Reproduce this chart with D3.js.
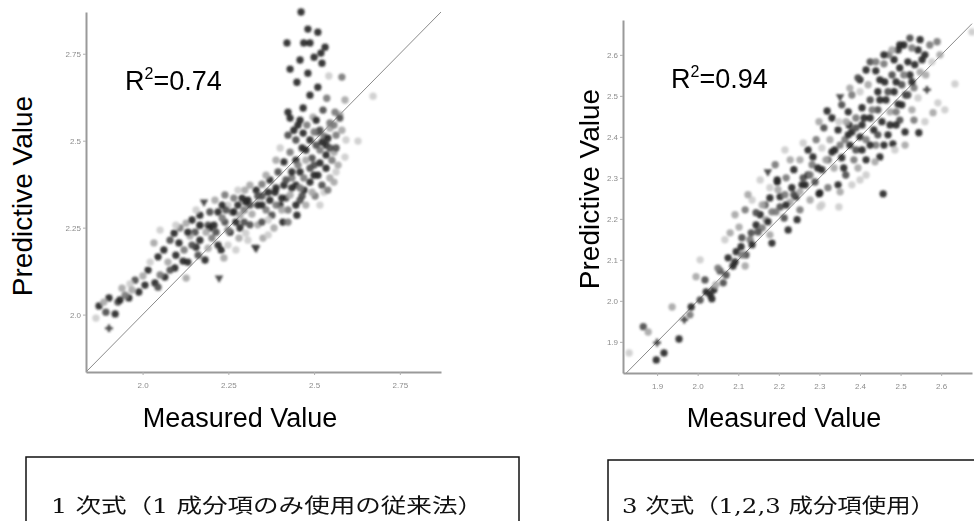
<!DOCTYPE html>
<html>
<head>
<meta charset="utf-8">
<script src="https://cdn.jsdelivr.net/npm/d3@7"></script>
<style>
  body { margin: 0; background: #fff; }
  svg { display: block; }
</style>
</head>
<body>
<svg id="chart" width="974" height="521"></svg>
<script>
// [measured, predicted, sample group]
var leftPoints = [
  [1.873,2.025,"d"],[1.902,2.048,"d"],[1.920,2.002,"d"],[1.902,1.961,"p"],[1.960,2.048,"d"],
  [1.989,2.065,"d"],[1.940,2.076,"l"],[1.887,2.036,"l"],[2.001,2.111,"l"],[2.036,2.091,"d"],
  [2.045,2.079,"m"],[2.065,2.108,"d"],[2.094,2.134,"d"],[2.118,2.154,"d"],[2.127,2.105,"l"],
  [2.045,2.166,"d"],[2.062,2.186,"d"],[2.033,2.206,"l"],[2.092,2.234,"d"],[2.106,2.206,"d"],
  [2.127,2.263,"l"],[2.144,2.272,"d"],[2.156,2.194,"d"],[2.182,2.157,"d"],[2.223,2.105,"t"],
  [2.229,2.186,"d"],[2.237,2.163,"l"],[2.179,2.324,"t"],[2.331,2.191,"t"],[2.281,2.220,"l"],
  [2.153,2.237,"m"],[2.167,2.286,"d"],[2.191,2.257,"m"],[2.202,2.220,"g"],[2.220,2.295,"d"],
  [2.240,2.266,"m"],[2.255,2.237,"d"],[2.261,2.295,"g"],[2.278,2.315,"d"],[2.296,2.266,"m"],
  [2.307,2.329,"d"],[2.319,2.289,"l"],[2.336,2.315,"d"],[2.348,2.341,"m"],[2.360,2.301,"g"],
  [2.371,2.329,"d"],[2.386,2.352,"d"],[2.351,2.220,"l"],[2.409,2.266,"d"],[2.450,2.286,"d"],
  [2.328,2.194,"t"],[2.284,2.286,"l"],[2.249,2.315,"v"],[2.211,2.329,"l"],[2.298,2.358,"l"],
  [2.240,2.344,"g"],[2.109,2.249,"g"],[2.080,2.214,"m"],[2.138,2.226,"l"],[2.196,2.249,"d"],
  [2.272,2.266,"d"],[2.313,2.258,"m"],[2.377,2.286,"m"],[2.401,2.315,"d"],[2.418,2.335,"m"],
  [2.435,2.364,"d"],[2.424,2.301,"g"],[2.459,2.329,"m"],[2.471,2.358,"d"],[2.488,2.381,"d"],
  [2.476,2.315,"l"],[2.503,2.341,"g"],[2.511,2.401,"d"],[2.523,2.372,"m"],[2.535,2.421,"d"],
  [2.546,2.393,"l"],[2.500,2.430,"m"],[2.459,2.410,"d"],[2.435,2.393,"g"],[2.412,2.372,"d"],
  [2.447,2.444,"d"],[2.476,2.473,"d"],[2.494,2.450,"m"],[2.517,2.473,"g"],[2.535,2.487,"d"],
  [2.558,2.467,"l"],[2.570,2.430,"l"],[2.488,2.502,"d"],[2.511,2.525,"m"],[2.529,2.513,"g"],
  [2.546,2.536,"l"],[2.564,2.516,"g"],[2.575,2.574,"l"],[2.590,2.453,"v"],[2.628,2.499,"v"],
  [2.672,2.628,"v"],[2.590,2.617,"l"],[2.581,2.683,"g"],[2.543,2.686,"v"],[2.537,2.622,"g"],
  [2.575,2.565,"m"],
  [2.462,2.870,"d"],[2.482,2.821,"d"],[2.511,2.812,"d"],[2.421,2.781,"d"],[2.470,2.781,"d"],
  [2.488,2.781,"d"],[2.532,2.769,"d"],[2.520,2.752,"d"],[2.459,2.732,"d"],[2.500,2.740,"d"],
  [2.523,2.723,"d"],[2.430,2.706,"d"],[2.482,2.694,"d"],[2.450,2.668,"d"],[2.511,2.654,"d"],
  [2.488,2.631,"d"],[2.424,2.582,"d"],[2.468,2.594,"d"],[2.430,2.565,"d"],[2.526,2.588,"m"],
  [2.497,2.568,"l"],[2.546,2.551,"g"],[2.453,2.545,"d"],[2.468,2.522,"d"],[2.517,2.530,"m"],
  [2.561,2.582,"g"],
  [2.447,2.502,"m"],[2.465,2.479,"d"],[2.430,2.467,"g"],[2.412,2.439,"d"],[2.395,2.410,"m"],
  [2.371,2.387,"d"],[2.348,2.375,"g"],[2.331,2.358,"d"],[2.360,2.401,"l"],[2.389,2.444,"l"],
  [2.424,2.516,"m"],[2.401,2.479,"v"],[2.535,2.459,"d"],[2.506,2.487,"m"],[2.488,2.421,"m"],
  [2.470,2.393,"g"],[2.447,2.372,"d"],[2.430,2.344,"l"],[2.406,2.335,"d"],[2.389,2.315,"g"],
  [2.366,2.352,"d"],[2.313,2.315,"m"],[2.290,2.335,"d"],[2.266,2.295,"d"],[2.232,2.278,"g"],
  [2.208,2.257,"d"],[2.185,2.237,"l"],[2.167,2.214,"d"],[2.144,2.200,"m"],[2.121,2.186,"g"],
  [2.097,2.171,"d"],[2.074,2.151,"l"],[2.016,2.128,"d"],[1.978,2.099,"m"],[1.949,2.056,"g"],
  [1.928,2.036,"m"],[1.963,2.088,"v"],[2.022,2.151,"v"],[2.167,2.255,"l"],[2.336,2.258,"l"],
  [2.366,2.272,"v"],[2.301,2.234,"v"],[2.249,2.200,"v"],[2.494,2.352,"l"],[2.529,2.352,"v"],
  [2.517,2.315,"v"],[2.564,2.410,"v"],[2.552,2.444,"g"],[2.564,2.479,"m"],[2.506,2.559,"d"],
  [2.540,2.507,"d"],[2.441,2.530,"d"],[2.479,2.545,"g"],[2.418,2.387,"m"],[2.348,2.315,"d"],
  [2.296,2.301,"g"],[2.243,2.301,"m"],[2.214,2.237,"m"],[2.132,2.237,"d"],[2.097,2.257,"v"],
  [2.051,2.243,"v"],[2.156,2.301,"v"],[2.278,2.358,"v"],[2.313,2.372,"l"],[2.500,2.401,"d"],
  [2.517,2.436,"d"],[2.459,2.364,"g"],[2.476,2.444,"l"],
  [2.348,2.266,"m"],[2.383,2.249,"l"],[2.424,2.266,"g"],[2.447,2.315,"d"],[2.465,2.341,"m"],
  [2.435,2.410,"d"],[2.453,2.430,"g"],[2.540,2.358,"g"],[2.558,2.381,"l"],[2.523,2.496,"d"],
  [2.546,2.479,"m"],[2.500,2.525,"g"],[2.459,2.559,"d"],[2.558,2.545,"g"],[2.581,2.530,"l"],
  [2.593,2.502,"v"],[2.284,2.249,"d"],[2.249,2.243,"g"],[2.220,2.200,"d"],[2.191,2.191,"l"],
  [2.162,2.171,"m"],[2.132,2.151,"d"],[2.080,2.128,"m"],[2.051,2.114,"g"],[2.007,2.085,"d"],
  [1.969,2.071,"l"],[1.934,2.042,"d"],[1.893,2.007,"m"],[1.864,1.990,"v"],[2.307,2.214,"v"],
  [2.272,2.186,"v"],[2.366,2.229,"v"],[2.406,2.301,"l"],[2.389,2.364,"d"],[2.336,2.341,"m"],
  [2.301,2.324,"d"],[2.266,2.335,"g"],[2.232,2.315,"d"],[2.196,2.295,"m"],[2.167,2.257,"d"]
];

var rightPoints = [
  [1.831,1.873,"v"],[1.898,1.856,"d"],[1.917,1.873,"d"],[1.900,1.898,"p"],[1.866,1.937,"m"],
  [1.878,1.924,"l"],[1.954,1.907,"d"],[1.967,1.954,"p"],[1.984,1.985,"d"],[1.937,1.985,"l"],
  [1.996,2.059,"l"],[2.031,2.015,"d"],[2.040,2.027,"d"],[2.035,2.005,"d"],[2.063,2.044,"m"],
  [2.055,2.073,"m"],[2.087,2.085,"d"],[2.117,2.085,"l"],[2.095,2.120,"d"],[2.107,2.132,"d"],
  [2.119,2.112,"m"],[2.129,2.149,"g"],[2.080,2.166,"l"],[2.102,2.180,"l"],[2.132,2.166,"m"],
  [2.144,2.185,"d"],[2.154,2.210,"d"],[2.144,2.215,"m"],[2.168,2.198,"l"],[2.183,2.141,"d"],
  [2.223,2.173,"d"],[2.245,2.198,"d"],[2.203,2.229,"m"],[2.228,2.241,"l"],[2.203,2.254,"d"],
  [2.242,2.254,"d"],[2.265,2.283,"d"],[2.301,2.263,"d"],[2.301,2.229,"v"],[2.348,2.229,"v"],
  [2.196,2.290,"d"],[2.457,2.261,"d"],[2.351,2.498,"t"],[2.319,2.463,"d"],[2.299,2.437,"l"],
  [2.373,2.429,"d"],[2.348,2.437,"v"],[2.511,2.412,"d"],[2.545,2.410,"d"],[2.481,2.383,"d"],
  [2.449,2.351,"d"],[2.580,2.459,"l"],[2.560,2.437,"v"],[2.592,2.483,"v"],[2.415,2.307,"v"],
  [2.173,2.315,"t"],[2.196,2.295,"d"],[2.299,2.261,"d"],[2.260,2.300,"m"],[2.284,2.351,"d"],
  [2.375,2.380,"d"],[2.400,2.400,"d"],[2.676,2.656,"v"],[2.590,2.632,"g"],[2.543,2.612,"d"],
  [2.634,2.529,"v"],[2.565,2.515,"p"],[2.609,2.466,"v"],
  [2.166,2.234,"m"],[2.183,2.217,"g"],[2.178,2.251,"d"],[2.215,2.259,"g"],[2.232,2.276,"d"],
  [2.252,2.266,"l"],[2.272,2.307,"d"],[2.289,2.290,"m"],[2.282,2.332,"g"],[2.306,2.320,"d"],
  [2.321,2.344,"m"],[2.336,2.324,"l"],[2.338,2.368,"d"],[2.355,2.349,"d"],[2.363,2.393,"g"],
  [2.380,2.412,"d"],[2.390,2.368,"m"],[2.405,2.429,"d"],[2.415,2.393,"g"],[2.425,2.446,"d"],
  [2.434,2.417,"d"],[2.444,2.466,"m"],[2.454,2.437,"d"],[2.464,2.490,"d"],[2.474,2.461,"l"],
  [2.484,2.510,"d"],[2.494,2.480,"d"],[2.503,2.527,"m"],[2.513,2.502,"d"],[2.523,2.551,"d"],
  [2.533,2.520,"g"],[2.518,2.583,"d"],[2.498,2.568,"d"],[2.479,2.551,"m"],[2.461,2.534,"d"],
  [2.444,2.510,"d"],[2.425,2.490,"m"],[2.405,2.471,"d"],[2.390,2.446,"g"],[2.371,2.461,"d"],
  [2.439,2.561,"d"],[2.459,2.578,"g"],[2.484,2.588,"d"],[2.548,2.558,"l"],[2.543,2.495,"v"],
  [2.528,2.466,"l"],[2.498,2.441,"m"],[2.469,2.405,"d"],[2.439,2.380,"g"],[2.415,2.344,"d"],
  [2.395,2.324,"l"],[2.365,2.307,"m"],[2.346,2.283,"d"],[2.321,2.276,"g"],[2.306,2.373,"v"],
  [2.326,2.393,"l"],[2.346,2.417,"d"],[2.366,2.437,"l"],[2.400,2.510,"v"],[2.420,2.527,"l"],
  [2.449,2.539,"d"],[2.494,2.612,"d"],[2.508,2.624,"d"],[2.528,2.617,"g"],[2.553,2.588,"d"],
  [2.562,2.551,"l"],[2.535,2.576,"d"],[2.471,2.600,"g"],[2.425,2.583,"m"],[2.400,2.539,"d"],
  [2.380,2.502,"g"],[2.355,2.478,"m"],[2.331,2.446,"d"],[2.311,2.422,"m"],[2.292,2.393,"g"],
  [2.272,2.368,"d"],[2.252,2.344,"l"],[2.237,2.320,"d"],[2.218,2.300,"g"],[2.198,2.271,"l"],
  [2.178,2.276,"v"],[2.159,2.234,"l"],[2.117,2.222,"g"],[2.134,2.246,"v"],[2.092,2.210,"l"],
  [2.067,2.149,"v"],[2.006,2.100,"v"],[2.050,2.080,"g"],[2.018,2.051,"m"],[2.075,2.105,"d"],
  [2.109,2.154,"m"],[2.159,2.178,"g"],[2.178,2.161,"l"],[2.213,2.202,"m"],[2.252,2.222,"g"],
  [2.277,2.246,"l"],[2.306,2.234,"v"],[2.351,2.266,"l"],[2.380,2.283,"v"],[2.400,2.295,"v"],
  [2.437,2.339,"l"],[2.486,2.368,"v"],[2.511,2.380,"l"],[2.489,2.429,"d"],[2.533,2.441,"g"],
  [2.260,2.385,"v"],[2.228,2.344,"l"],[2.191,2.332,"g"],[2.215,2.368,"v"],[2.154,2.295,"v"],
  [2.124,2.259,"l"],
  [2.425,2.380,"d"],[2.444,2.405,"m"],[2.459,2.380,"d"],[2.474,2.429,"d"],[2.489,2.461,"g"],
  [2.503,2.478,"d"],[2.518,2.502,"m"],[2.528,2.534,"d"],[2.508,2.551,"g"],[2.489,2.534,"d"],
  [2.469,2.510,"m"],[2.449,2.490,"d"],[2.430,2.466,"g"],[2.410,2.446,"d"],[2.390,2.422,"m"],
  [2.371,2.405,"d"],[2.351,2.380,"g"],[2.331,2.363,"d"],[2.316,2.344,"l"],[2.296,2.324,"d"],
  [2.277,2.307,"g"],[2.257,2.283,"d"],[2.237,2.259,"m"],[2.218,2.234,"d"],[2.193,2.217,"g"],
  [2.173,2.193,"d"],[2.149,2.168,"m"],[2.134,2.137,"d"],[2.109,2.112,"g"],[2.092,2.095,"d"],
  [2.070,2.063,"m"],[2.045,2.039,"l"],[2.021,2.022,"d"],[2.006,2.002,"m"],[1.981,1.966,"g"],
  [2.560,2.600,"d"],[2.572,2.624,"g"],[2.548,2.637,"d"],[2.523,2.641,"m"],[2.498,2.624,"d"],
  [2.479,2.612,"l"],[2.459,2.600,"d"],[2.439,2.583,"g"],[2.415,2.563,"d"],[2.395,2.544,"m"],
  [2.375,2.519,"l"],[2.577,2.583,"v"],[2.597,2.600,"l"],[2.405,2.368,"d"],[2.385,2.344,"g"],
  [2.360,2.324,"d"]
];

var leftTicks = [2.0, 2.25, 2.5, 2.75];
var leftTickLabels = ["2.0", "2.25", "2.5", "2.75"];
var rightTicks = [1.9, 2.0, 2.1, 2.2, 2.3, 2.4, 2.5, 2.6];
var rightTickLabels = ["1.9", "2.0", "2.1", "2.2", "2.3", "2.4", "2.5", "2.6"];
var rSquared = ["0.74", "0.94"];
var captions = ["1 次式（1 成分項のみ使用の従来法）", "3 次式（1,2,3 成分項使用）"];

var groupColor = d3.scaleOrdinal()
  .domain(["d", "m", "g", "l", "v", "t", "p"])
  .range(["#262626", "#4a4a4a", "#787878", "#a6a6a6", "#cccccc", "#3a3a3a", "#333333"]);
var groupShape = d3.scaleOrdinal()
  .domain(["d", "m", "g", "l", "v", "t", "p"])
  .range([d3.symbolCircle, d3.symbolCircle, d3.symbolCircle, d3.symbolCircle, d3.symbolCircle, d3.symbolTriangle, d3.symbolCross]);

var svg = d3.select("#chart");

var defs = svg.append("defs");
defs.append("filter").attr("id", "soft")
  .attr("x", "-20%").attr("y", "-20%").attr("width", "140%").attr("height", "140%")
  .append("feGaussianBlur").attr("stdDeviation", 0.9);
defs.append("filter").attr("id", "softText")
  .append("feGaussianBlur").attr("stdDeviation", 0.35);

var panels = [
  {
    points: leftPoints, ticks: leftTicks, labels: leftTickLabels, r2: rSquared[0],
    xDomain: [1.835, 2.87], yDomain: [1.835, 2.87],
    xRange: [86, 441], yRange: [372, 12],
    yTitleX: 32, yTitleY: 196, xTitleX: 240, r2X: 125, r2Y: 90
  },
  {
    points: rightPoints, ticks: rightTicks, labels: rightTickLabels, r2: rSquared[1],
    xDomain: [1.816, 2.676], yDomain: [1.824, 2.685],
    xRange: [623, 972], yRange: [373, 20],
    yTitleX: 599, yTitleY: 189, xTitleX: 784, r2X: 671, r2Y: 88
  }
];

panels.forEach(function (p) {
  var xScale = d3.scaleLinear().domain(p.xDomain).range(p.xRange);
  var yScale = d3.scaleLinear().domain(p.yDomain).range(p.yRange);

  // y = x reference line
  var lo = Math.max(p.xDomain[0], p.yDomain[0]);
  var hi = Math.min(p.xDomain[1], p.yDomain[1]);
  svg.append("line")
    .attr("x1", xScale(lo)).attr("y1", yScale(lo))
    .attr("x2", xScale(hi)).attr("y2", yScale(hi))
    .attr("stroke", "#8a8a8a").attr("stroke-width", 1);

  var fmt = function (d) { return p.labels[p.ticks.indexOf(d)]; };

  var xAxis = svg.append("g")
    .attr("transform", "translate(0," + p.yRange[0] + ")")
    .call(d3.axisBottom(xScale).tickValues(p.ticks).tickFormat(fmt).tickSize(3).tickSizeOuter(0).tickPadding(7));
  var yAxis = svg.append("g")
    .attr("transform", "translate(" + p.xRange[0] + ",0)")
    .call(d3.axisLeft(yScale).tickValues(p.ticks).tickFormat(fmt).tickSize(3).tickSizeOuter(0).tickPadding(2));

  [xAxis, yAxis].forEach(function (ax) {
    ax.select(".domain").attr("stroke", "#9a9a9a").attr("stroke-width", 2);
    ax.selectAll(".tick line").attr("stroke", "#b0b0b0");
    ax.selectAll(".tick text")
      .attr("fill", "#8c8c8c")
      .style("font-family", "Liberation Sans, Arial, sans-serif")
      .style("font-size", "8px")
      .attr("filter", "url(#softText)");
  });

  var sym = d3.symbol();
  svg.append("g")
    .attr("filter", "url(#soft)")
    .selectAll("path")
    .data(p.points)
    .enter()
    .append("path")
    .attr("d", function (d) {
      var t = groupShape(d[2]);
      return sym.type(t).size(t === d3.symbolCircle ? 42 : 32)();
    })
    .attr("transform", function (d) {
      var rot = d[2] === "t" ? " rotate(180)" : "";
      return "translate(" + xScale(d[0]) + "," + yScale(d[1]) + ")" + rot;
    })
    .attr("fill", function (d) { return groupColor(d[2]); })
    .attr("fill-opacity", 0.9);

  // titles
  svg.append("text")
    .attr("transform", "translate(" + p.yTitleX + "," + p.yTitleY + ") rotate(-90)")
    .attr("text-anchor", "middle")
    .style("font-family", "Liberation Sans, Arial, sans-serif")
    .style("font-size", "28px")
    .text("Predictive Value");

  svg.append("text")
    .attr("x", p.xTitleX).attr("y", 427)
    .attr("text-anchor", "middle")
    .style("font-family", "Liberation Sans, Arial, sans-serif")
    .style("font-size", "27px")
    .text("Measured Value");

  var r2 = svg.append("text")
    .attr("x", p.r2X).attr("y", p.r2Y)
    .style("font-family", "Liberation Sans, Arial, sans-serif")
    .style("font-size", "27px");
  r2.append("tspan").text("R");
  r2.append("tspan").attr("dy", -11).style("font-size", "16px").text("2");
  r2.append("tspan").attr("dy", 11).text("=" + p.r2);
});

// caption boxes
var boxes = [
  { x: 26, y: 457, w: 493, tx: 51, tl: 432 },
  { x: 608, y: 460, w: 400, tx: 622, tl: 313 }
];
boxes.forEach(function (b) { b.ty = 513; });
boxes.forEach(function (b, i) {
  svg.append("rect")
    .attr("x", b.x).attr("y", b.y).attr("width", b.w).attr("height", 100)
    .attr("fill", "none").attr("stroke", "#111").attr("stroke-width", 1.5);
  svg.append("text")
    .attr("x", b.tx).attr("y", b.ty)
    .attr("textLength", b.tl).attr("lengthAdjust", "spacingAndGlyphs")
    .style("font-family", "DejaVu Serif, 'Noto Sans CJK JP', serif")
    .style("font-size", "20px")
    .attr("fill", "#111")
    .text(captions[i]);
});
</script>
</body>
</html>
